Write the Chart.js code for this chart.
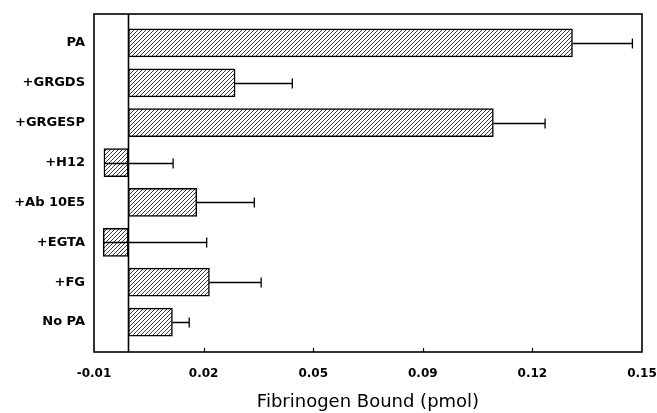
<!DOCTYPE html>
<html>
<head>
<meta charset="utf-8">
<script src="https://cdn.jsdelivr.net/npm/chart.js@4/dist/chart.umd.min.js"></script>
<style>
  html, body { margin: 0; padding: 0; background: #fff; }
  #wrap { width: 657px; height: 413px; }
</style>
</head>
<body>
<div id="wrap"><canvas id="fibChart"></canvas></div>
<script>
// data
const categories = ['PA', '+GRGDS', '+GRGESP', '+H12', '+Ab 10E5', '+EGTA', '+FG', 'No PA'];
const bound      = [0.1297, 0.0312, 0.1066, -0.0071, 0.0200, -0.0073, 0.0237, 0.0129];
const errTop     = [0.1472, 0.0479, 0.1217, 0.0131, 0.0368, 0.0229, 0.0388, 0.0178];
const tickValues = [-0.01, 0.022, 0.054, 0.086, 0.118, 0.15];

// diagonal hatching for the bars
function hatch() {
  const c = document.createElement('canvas');
  c.width = 4; c.height = 4;
  const g = c.getContext('2d');
  g.fillStyle = '#fff';
  g.fillRect(0, 0, 4, 4);
  g.strokeStyle = '#222';
  g.lineWidth = 0.9;
  g.beginPath();
  g.moveTo(-1, 5); g.lineTo(5, -1);
  g.moveTo(-1, 1); g.lineTo(1, -1);
  g.moveTo(3, 5); g.lineTo(5, 3);
  g.stroke();
  return g.createPattern(c, 'repeat');
}

// frame, zero line, inside ticks and error bars
const extras = {
  id: 'extras',
  afterDatasetsDraw(chart) {
    const ctx = chart.ctx;
    const a = chart.chartArea;
    const x = chart.scales.x;
    const top = a.top - 9, bottom = a.bottom + 10;
    ctx.save();
    ctx.strokeStyle = '#000';
    ctx.lineWidth = 1.6;
    ctx.strokeRect(a.left, top, a.right - a.left, bottom - top);
    const x0 = Math.round(x.getPixelForValue(0)) + 0.5;
    ctx.beginPath();
    ctx.moveTo(x0, top); ctx.lineTo(x0, bottom);
    ctx.stroke();
    ctx.lineWidth = 1.2;
    for (let i = 1; i < tickValues.length - 1; i++) {
      const tx = Math.round(x.getPixelForValue(tickValues[i])) + 0.5;
      ctx.beginPath();
      ctx.moveTo(tx, bottom); ctx.lineTo(tx, bottom - 4);
      ctx.stroke();
    }
    const meta = chart.getDatasetMeta(0);
    ctx.lineWidth = 1.3;
    meta.data.forEach((bar, i) => {
      const y = Math.round(bar.y) + 0.5;
      const xs = x.getPixelForValue(bound[i]);
      const xe = x.getPixelForValue(errTop[i]);
      ctx.beginPath();
      ctx.moveTo(xs, y); ctx.lineTo(xe, y);
      ctx.moveTo(xe, y - 5); ctx.lineTo(xe, y + 5);
      ctx.stroke();
    });
    ctx.restore();
  }
};

new Chart(document.getElementById('fibChart'), {
  type: 'bar',
  data: {
    labels: categories,
    datasets: [{
      data: bound,
      backgroundColor: hatch(),
      borderColor: '#000',
      borderWidth: 1.5,
      borderSkipped: false,
      barThickness: 28
    }]
  },
  options: {
    indexAxis: 'y',
    responsive: true,
    maintainAspectRatio: false,
    animation: false,
    layout: { padding: { top: 23, right: 15, left: 0, bottom: 0 } },
    plugins: { legend: { display: false }, tooltip: { enabled: false } },
    scales: {
      x: {
        type: 'linear',
        min: -0.01,
        max: 0.15,
        afterBuildTicks: (s) => { s.ticks = tickValues.map(v => ({ value: v })); },
        afterFit: (s) => { s.height = 71; s.paddingLeft = 0; s.paddingRight = 0; },
        grid: { display: false, drawTicks: false },
        border: { display: false },
        ticks: {
          padding: 25,
          maxRotation: 0,
          color: '#000',
          font: { family: 'DejaVu Sans', weight: 'bold', size: 12 },
          callback: (v) => v.toFixed(2)
        },
        title: {
          display: true,
          text: 'Fibrinogen Bound (pmol)',
          color: '#000',
          font: { family: 'DejaVu Sans', size: 18 },
          padding: { top: 6, bottom: 0 }
        }
      },
      y: {
        afterFit: (s) => { s.width = 94; },
        grid: { display: false, drawTicks: false },
        border: { display: false },
        ticks: {
          padding: 9,
          color: '#000',
          font: { family: 'DejaVu Sans', weight: 'bold', size: 13 }
        }
      }
    }
  },
  plugins: [extras]
});
</script>
</body>
</html>
